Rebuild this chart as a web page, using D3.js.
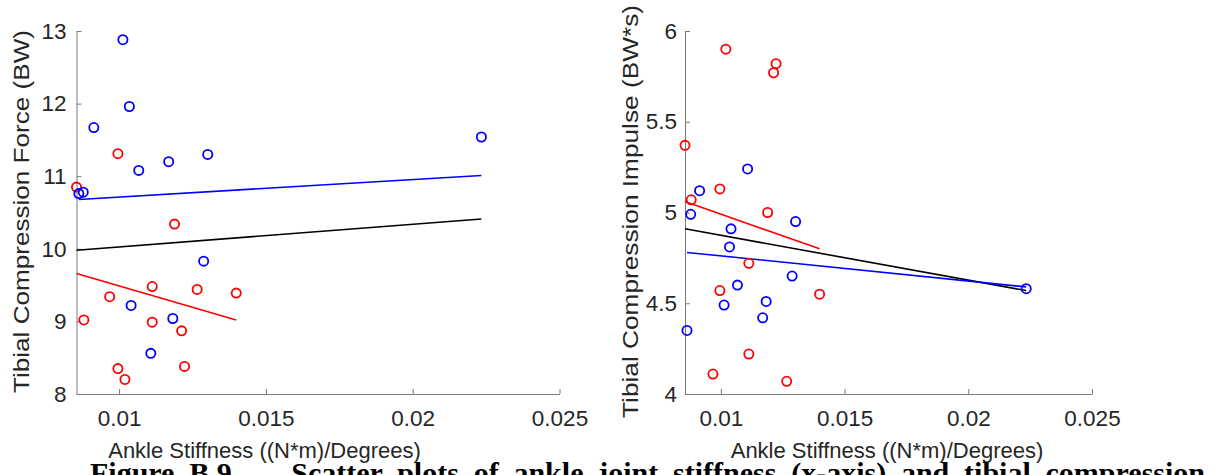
<html>
<head>
	<script src="https://d3js.org/d3.v7.min.js"></script>
	<style>
		body { margin: 0; background: #fff; }
		text { font-family: "Liberation Sans", Arial, sans-serif; fill: #262626; }
	</style>
</head>
<body>
	<div id="chart"></div>

<script>
  // stiffness values, one per subject (blue and red groups)
  var blueStiffness = [0.00863, 0.00878, 0.00914, 0.01013, 0.01035, 0.01041, 0.01067, 0.01108, 0.01169, 0.01183, 0.01288, 0.01302, 0.02234];
  var redStiffness = [0.00855, 0.00880, 0.00968, 0.00996, 0.00996, 0.01020, 0.01113, 0.01113, 0.01189, 0.01213, 0.01223, 0.01266, 0.01399];

  // tibial compression force (BW)
  var blueForce = [10.76, 10.78, 11.67, 12.88, 11.96, 9.22, 11.08, 8.56, 11.20, 9.04, 9.83, 11.30, 11.54];
  var redForce = [10.85, 9.02, 9.34, 11.31, 8.35, 8.20, 9.48, 8.99, 10.34, 8.87, 8.38, 9.44, 9.39];

  // tibial compression impulse (BW*s)
  var blueImpulse = [4.35, 4.99, 5.12, 4.49, 4.81, 4.91, 4.60, 5.24, 4.42, 4.51, 4.65, 4.95, 4.58];
  var redImpulse = [5.37, 5.07, 4.11, 5.13, 4.57, 5.90, 4.72, 4.22, 5.00, 5.77, 5.82, 4.07, 4.55];

  // fit lines, values at both ends
  var blueFitX = [0.00863, 0.02234];
  var redFitX = [0.00855, 0.01399];
  var allFitX = [0.00855, 0.02234];
  var forceFitBlue = [10.68, 11.01];
  var forceFitRed = [9.66, 9.02];
  var forceFitAll = [9.98, 10.41];
  var impulseFitBlue = [4.78, 4.59];
  var impulseFitRed = [5.06, 4.80];
  var impulseFitAll = [4.91, 4.57];

  // ticks
  var xTicks = [0.01, 0.015, 0.02, 0.025];
  var xTickLabels = ["0.01", "0.015", "0.02", "0.025"];
  var forceTicks = [8, 9, 10, 11, 12, 13];
  var impulseTicks = [4, 4.5, 5, 5.5, 6];

  var width = 1225;
  var height = 475;

  var svg = d3.select("#chart")
	.append("svg")
	.attr("width", width)
	.attr("height", height);

  svg.append("rect")
	.attr("width", width)
	.attr("height", height)
	.attr("fill", "#fff");

  var xMin = d3.min(blueStiffness.concat(redStiffness));

  function drawPanel(p){
  	var x = d3.scaleLinear().domain([xMin, 0.025]).range([p.left, p.right]);
  	var y = d3.scaleLinear().domain(p.yDomain).range([394, 31]);

  	// axes (ticks point inward)
  	svg.append("g")
  		.attr("transform", "translate(0,394)")
  		.call(d3.axisBottom(x).tickValues(xTicks)
  			.tickFormat(function(d, i){ return xTickLabels[i]; })
  			.tickSizeInner(-5).tickSizeOuter(0).tickPadding(16));

  	svg.append("g")
  		.attr("transform", "translate(" + p.left + ",0)")
  		.call(d3.axisLeft(y).tickValues(p.yTicks)
  			.tickFormat(d3.format("~g"))
  			.tickSizeInner(-5).tickSizeOuter(0).tickPadding(p.yPad));

  	svg.selectAll(".domain, .tick line")
  		.attr("stroke", "#7a7a7a")
  		.attr("stroke-width", 1);
  	svg.selectAll(".tick text")
  		.attr("fill", "#262626")
  		.style("font-family", "'Liberation Sans', Arial, sans-serif")
  		.style("font-size", "22.5px");

  	// fit lines
  	var fits = [
  		{xs: allFitX, ys: p.fitAll, color: "#000"},
  		{xs: redFitX, ys: p.fitRed, color: "#f00"},
  		{xs: blueFitX, ys: p.fitBlue, color: "#00f"}
  	];
  	svg.selectAll(null)
  		.data(fits)
  		.enter()
  		.append("line")
  		.attr("x1", function(d){ return x(d.xs[0]); })
  		.attr("y1", function(d){ return y(d.ys[0]); })
  		.attr("x2", function(d){ return x(d.xs[1]); })
  		.attr("y2", function(d){ return y(d.ys[1]); })
  		.attr("stroke", function(d){ return d.color; })
  		.attr("stroke-width", 1.6);

  	// points
  	var groups = [
  		{xs: redStiffness, ys: p.red, color: "#f00"},
  		{xs: blueStiffness, ys: p.blue, color: "#00f"}
  	];
  	groups.forEach(function(g){
  		svg.selectAll(null)
  			.data(g.ys)
  			.enter()
  			.append("circle")
  			.attr("cx", function(d, i){ return x(g.xs[i]); })
  			.attr("cy", function(d){ return y(d); })
  			.attr("r", 4.6)
  			.attr("fill", "none")
  			.attr("stroke", g.color)
  			.attr("stroke-width", 1.8);
  	});

  	// labels
  	svg.append("text")
  		.attr("x", p.xLabelX)
  		.attr("y", 458)
  		.attr("text-anchor", "middle")
  		.style("font-size", "22px")
  		.text("Ankle Stiffness ((N*m)/Degrees)");

  	svg.append("text")
  		.attr("transform", "translate(" + p.yLabelX + "," + p.yLabelMid + ") rotate(-90)")
  		.attr("text-anchor", "middle")
  		.attr("textLength", p.yLabelLen)
  		.attr("lengthAdjust", "spacingAndGlyphs")
  		.style("font-size", "22px")
  		.text(p.yLabel);
  }

  drawPanel({
  	left: 76.5, right: 559.5,
  	yDomain: [8, 13], yTicks: forceTicks, yPad: 10,
  	blue: blueForce, red: redForce,
  	fitBlue: forceFitBlue, fitRed: forceFitRed, fitAll: forceFitAll,
  	xLabelX: 264.5,
  	yLabel: "Tibial Compression Force (BW)", yLabelX: 29, yLabelMid: 211.5, yLabelLen: 363
  });

  drawPanel({
  	left: 685, right: 1092,
  	yDomain: [4, 6], yTicks: impulseTicks, yPad: 8,
  	blue: blueImpulse, red: redImpulse,
  	fitBlue: impulseFitBlue, fitRed: impulseFitRed, fitAll: impulseFitAll,
  	xLabelX: 887,
  	yLabel: "Tibial Compression Impulse (BW*s)", yLabelX: 638, yLabelMid: 211.5, yLabelLen: 413
  });

  // caption, cut off by the bottom edge; spaces adjusted like justified text
  var caption = svg.append("text")
	.attr("x", 90)
	.attr("y", 483)
	.style("font-family", "'Liberation Serif', 'Times New Roman', serif")
	.style("font-weight", "bold")
	.style("font-size", "30px")
	.style("fill", "#000")
	.text("Figure B.9 \u2014 Scatter plots of ankle joint stiffness (x-axis) and tibial compression");

  var natural = caption.node().getComputedTextLength();
  var gaps = caption.text().split(" ").length - 1;
  caption.style("word-spacing", Math.max(-3, (1115 - natural) / gaps) + "px");
</script>
</body>
</html>
